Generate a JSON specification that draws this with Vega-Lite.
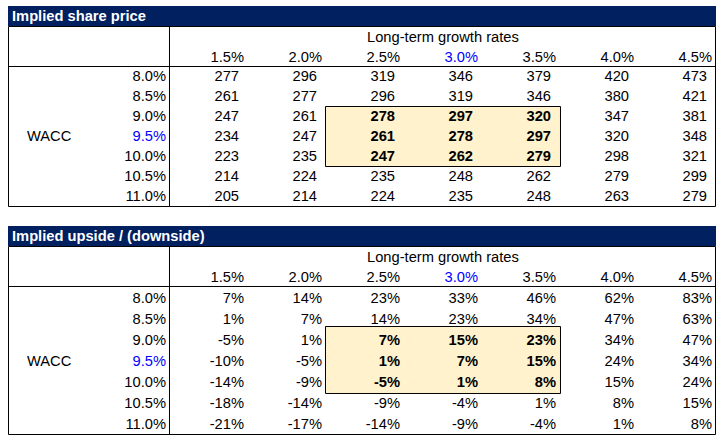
{
  "$schema": "https://vega.github.io/schema/vega-lite/v6.json",
  "padding": 0,
  "spacing": 0,
  "background": "white",
  "config": {
    "view": {"stroke": null},
    "axis": {"disable": true},
    "text": {"font": "Liberation Sans", "fontSize": 14.7},
    "locale": {"number": {"decimal": ".", "thousands": ",", "grouping": [3], "currency": ["$", ""], "minus": "-"}}
  },
  "datasets": {
    "cells": [
      {"w": 0.08, "g": 0.015, "p": 277, "u": 0.07}, {"w": 0.08, "g": 0.02, "p": 296, "u": 0.14}, {"w": 0.08, "g": 0.025, "p": 319, "u": 0.23}, {"w": 0.08, "g": 0.03, "p": 346, "u": 0.33}, {"w": 0.08, "g": 0.035, "p": 379, "u": 0.46}, {"w": 0.08, "g": 0.04, "p": 420, "u": 0.62}, {"w": 0.08, "g": 0.045, "p": 473, "u": 0.83},
      {"w": 0.085, "g": 0.015, "p": 261, "u": 0.01}, {"w": 0.085, "g": 0.02, "p": 277, "u": 0.07}, {"w": 0.085, "g": 0.025, "p": 296, "u": 0.14}, {"w": 0.085, "g": 0.03, "p": 319, "u": 0.23}, {"w": 0.085, "g": 0.035, "p": 346, "u": 0.34}, {"w": 0.085, "g": 0.04, "p": 380, "u": 0.47}, {"w": 0.085, "g": 0.045, "p": 421, "u": 0.63},
      {"w": 0.09, "g": 0.015, "p": 247, "u": -0.05}, {"w": 0.09, "g": 0.02, "p": 261, "u": 0.01}, {"w": 0.09, "g": 0.025, "p": 278, "u": 0.07}, {"w": 0.09, "g": 0.03, "p": 297, "u": 0.15}, {"w": 0.09, "g": 0.035, "p": 320, "u": 0.23}, {"w": 0.09, "g": 0.04, "p": 347, "u": 0.34}, {"w": 0.09, "g": 0.045, "p": 381, "u": 0.47},
      {"w": 0.095, "g": 0.015, "p": 234, "u": -0.10}, {"w": 0.095, "g": 0.02, "p": 247, "u": -0.05}, {"w": 0.095, "g": 0.025, "p": 261, "u": 0.01}, {"w": 0.095, "g": 0.03, "p": 278, "u": 0.07}, {"w": 0.095, "g": 0.035, "p": 297, "u": 0.15}, {"w": 0.095, "g": 0.04, "p": 320, "u": 0.24}, {"w": 0.095, "g": 0.045, "p": 348, "u": 0.34},
      {"w": 0.1, "g": 0.015, "p": 223, "u": -0.14}, {"w": 0.1, "g": 0.02, "p": 235, "u": -0.09}, {"w": 0.1, "g": 0.025, "p": 247, "u": -0.05}, {"w": 0.1, "g": 0.03, "p": 262, "u": 0.01}, {"w": 0.1, "g": 0.035, "p": 279, "u": 0.08}, {"w": 0.1, "g": 0.04, "p": 298, "u": 0.15}, {"w": 0.1, "g": 0.045, "p": 321, "u": 0.24},
      {"w": 0.105, "g": 0.015, "p": 214, "u": -0.18}, {"w": 0.105, "g": 0.02, "p": 224, "u": -0.14}, {"w": 0.105, "g": 0.025, "p": 235, "u": -0.09}, {"w": 0.105, "g": 0.03, "p": 248, "u": -0.04}, {"w": 0.105, "g": 0.035, "p": 262, "u": 0.01}, {"w": 0.105, "g": 0.04, "p": 279, "u": 0.08}, {"w": 0.105, "g": 0.045, "p": 299, "u": 0.15},
      {"w": 0.11, "g": 0.015, "p": 205, "u": -0.21}, {"w": 0.11, "g": 0.02, "p": 214, "u": -0.17}, {"w": 0.11, "g": 0.025, "p": 224, "u": -0.14}, {"w": 0.11, "g": 0.03, "p": 235, "u": -0.09}, {"w": 0.11, "g": 0.035, "p": 248, "u": -0.04}, {"w": 0.11, "g": 0.04, "p": 263, "u": 0.01}, {"w": 0.11, "g": 0.045, "p": 279, "u": 0.08}
    ]
  },
  "vconcat": [
    {
      "width": 724,
      "height": 220,
      "layer": [
        {"data": {"values": [{}]}, "mark": {"type": "rect", "color": "#002060"},
         "encoding": {"x": {"datum": -0.000128, "type": "quantitative", "scale": {"domain": [-0.000641, 0.045769], "nice": false, "zero": false}}, "x2": {"datum": 0.045256},
                      "y": {"datum": 0.0625, "type": "quantitative", "scale": {"domain": [0.061, 0.116], "nice": false, "zero": false, "reverse": true}}, "y2": {"datum": 0.0675}}},
        {"data": {"values": [{}]}, "mark": {"type": "text", "text": "Implied share price", "align": "left", "baseline": "middle", "dy": 1, "fontWeight": "bold", "color": "white"},
         "encoding": {"x": {"datum": 0.000128, "type": "quantitative", "scale": {"domain": [-0.000641, 0.045769], "nice": false, "zero": false}},
                      "y": {"datum": 0.065, "type": "quantitative", "scale": {"domain": [0.061, 0.116], "nice": false, "zero": false, "reverse": true}}}},
        {"data": {"values": [{}]}, "mark": {"type": "rect", "fill": "#FFF2CC", "stroke": "black", "strokeWidth": 1},
         "encoding": {"x": {"datum": 0.020224, "type": "quantitative", "scale": {"domain": [-0.000641, 0.045769], "nice": false, "zero": false}}, "x2": {"datum": 0.035288},
                      "y": {"datum": 0.087625, "type": "quantitative", "scale": {"domain": [0.061, 0.116], "nice": false, "zero": false, "reverse": true}}, "y2": {"datum": 0.102625}}},
        {"data": {"values": [{}]}, "mark": {"type": "rect", "filled": false, "stroke": "black", "strokeWidth": 1},
         "encoding": {"x": {"datum": -0.000096, "type": "quantitative", "scale": {"domain": [-0.000641, 0.045769], "nice": false, "zero": false}}, "x2": {"datum": 0.045224},
                      "y": {"datum": 0.067625, "type": "quantitative", "scale": {"domain": [0.061, 0.116], "nice": false, "zero": false, "reverse": true}}, "y2": {"datum": 0.112625}}},
        {"data": {"values": [{}]}, "mark": {"type": "rule", "color": "black", "strokeWidth": 1},
         "encoding": {"x": {"datum": 0.010224, "type": "quantitative", "scale": {"domain": [-0.000641, 0.045769], "nice": false, "zero": false}},
                      "y": {"datum": 0.067625, "type": "quantitative", "scale": {"domain": [0.061, 0.116], "nice": false, "zero": false, "reverse": true}}, "y2": {"datum": 0.112625}}},
        {"data": {"values": [{}]}, "mark": {"type": "rule", "color": "black", "strokeWidth": 1},
         "encoding": {"x": {"datum": -0.000096, "type": "quantitative", "scale": {"domain": [-0.000641, 0.045769], "nice": false, "zero": false}}, "x2": {"datum": 0.045224},
                      "y": {"datum": 0.077625, "type": "quantitative", "scale": {"domain": [0.061, 0.116], "nice": false, "zero": false, "reverse": true}}}},
        {"data": {"values": [{}]}, "mark": {"type": "text", "text": "Long-term growth rates", "align": "left", "baseline": "middle", "dy": 1},
         "encoding": {"x": {"datum": 0.022885, "type": "quantitative", "scale": {"domain": [-0.000641, 0.045769], "nice": false, "zero": false}},
                      "y": {"datum": 0.07025, "type": "quantitative", "scale": {"domain": [0.061, 0.116], "nice": false, "zero": false, "reverse": true}}}},
        {"data": {"values": [{}]}, "mark": {"type": "text", "text": "WACC", "align": "left", "baseline": "middle", "dy": 1},
         "encoding": {"x": {"datum": 0.00109, "type": "quantitative", "scale": {"domain": [-0.000641, 0.045769], "nice": false, "zero": false}},
                      "y": {"datum": 0.095, "type": "quantitative", "scale": {"domain": [0.061, 0.116], "nice": false, "zero": false, "reverse": true}}}},
        {"data": {"name": "cells"}, "transform": [{"filter": "datum.w === 0.08"}],
         "mark": {"type": "text", "align": "right", "baseline": "middle", "dy": 1},
         "encoding": {"x": {"field": "g", "type": "quantitative", "scale": {"domain": [-0.000641, 0.045769], "nice": false, "zero": false}},
                      "y": {"datum": 0.07525, "type": "quantitative", "scale": {"domain": [0.061, 0.116], "nice": false, "zero": false, "reverse": true}},
                      "text": {"field": "g", "type": "quantitative", "format": ".1%"},
                      "color": {"condition": {"test": "datum.g === 0.03", "value": "#0000FF"}, "value": "black"}}},
        {"data": {"name": "cells"}, "transform": [{"filter": "datum.g === 0.015"}],
         "mark": {"type": "text", "align": "right", "baseline": "middle", "dy": 1},
         "encoding": {"x": {"datum": 0.01, "type": "quantitative", "scale": {"domain": [-0.000641, 0.045769], "nice": false, "zero": false}},
                      "y": {"field": "w", "type": "quantitative", "scale": {"domain": [0.061, 0.116], "nice": false, "zero": false, "reverse": true}},
                      "text": {"field": "w", "type": "quantitative", "format": ".1%"},
                      "color": {"condition": {"test": "datum.w === 0.095", "value": "#0000FF"}, "value": "black"}}},
        {"data": {"name": "cells"}, "transform": [{"filter": "!(datum.g > 0.024 && datum.g < 0.036 && datum.w > 0.089 && datum.w < 0.101)"}],
         "mark": {"type": "text", "align": "right", "baseline": "middle", "dy": 1, "dx": -5},
         "encoding": {"x": {"field": "g", "type": "quantitative", "scale": {"domain": [-0.000641, 0.045769], "nice": false, "zero": false}},
                      "y": {"field": "w", "type": "quantitative", "scale": {"domain": [0.061, 0.116], "nice": false, "zero": false, "reverse": true}},
                      "text": {"field": "p", "type": "quantitative", "format": "d"}}},
        {"data": {"name": "cells"}, "transform": [{"filter": "datum.g > 0.024 && datum.g < 0.036 && datum.w > 0.089 && datum.w < 0.101"}],
         "mark": {"type": "text", "align": "right", "baseline": "middle", "dy": 1, "dx": -5, "fontWeight": "bold"},
         "encoding": {"x": {"field": "g", "type": "quantitative", "scale": {"domain": [-0.000641, 0.045769], "nice": false, "zero": false}},
                      "y": {"field": "w", "type": "quantitative", "scale": {"domain": [0.061, 0.116], "nice": false, "zero": false, "reverse": true}},
                      "text": {"field": "p", "type": "quantitative", "format": "d"}}}
      ]
    },
    {
      "width": 724,
      "height": 222,
      "layer": [
        {"data": {"values": [{}]}, "mark": {"type": "rect", "color": "#002060"},
         "encoding": {"x": {"datum": -0.000128, "type": "quantitative", "scale": {"domain": [-0.000641, 0.045769], "nice": false, "zero": false}}, "x2": {"datum": 0.045256},
                      "y": {"datum": 0.06283, "type": "quantitative", "scale": {"domain": [0.0614, 0.1143], "nice": false, "zero": false, "reverse": true}}, "y2": {"datum": 0.067596}}},
        {"data": {"values": [{}]}, "mark": {"type": "text", "text": "Implied upside / (downside)", "align": "left", "baseline": "middle", "dy": 1, "fontWeight": "bold", "color": "white"},
         "encoding": {"x": {"datum": 0.000128, "type": "quantitative", "scale": {"domain": [-0.000641, 0.045769], "nice": false, "zero": false}},
                      "y": {"datum": 0.065213, "type": "quantitative", "scale": {"domain": [0.0614, 0.1143], "nice": false, "zero": false, "reverse": true}}}},
        {"data": {"values": [{}]}, "mark": {"type": "rect", "fill": "#FFF2CC", "stroke": "black", "strokeWidth": 1},
         "encoding": {"x": {"datum": 0.020224, "type": "quantitative", "scale": {"domain": [-0.000641, 0.045769], "nice": false, "zero": false}}, "x2": {"datum": 0.035288},
                      "y": {"datum": 0.086778, "type": "quantitative", "scale": {"domain": [0.0614, 0.1143], "nice": false, "zero": false, "reverse": true}}, "y2": {"datum": 0.102743}}},
        {"data": {"values": [{}]}, "mark": {"type": "rect", "filled": false, "stroke": "black", "strokeWidth": 1},
         "encoding": {"x": {"datum": -0.000096, "type": "quantitative", "scale": {"domain": [-0.000641, 0.045769], "nice": false, "zero": false}}, "x2": {"datum": 0.045224},
                      "y": {"datum": 0.067715, "type": "quantitative", "scale": {"domain": [0.0614, 0.1143], "nice": false, "zero": false, "reverse": true}}, "y2": {"datum": 0.112513}}},
        {"data": {"values": [{}]}, "mark": {"type": "rule", "color": "black", "strokeWidth": 1},
         "encoding": {"x": {"datum": 0.010224, "type": "quantitative", "scale": {"domain": [-0.000641, 0.045769], "nice": false, "zero": false}},
                      "y": {"datum": 0.067715, "type": "quantitative", "scale": {"domain": [0.0614, 0.1143], "nice": false, "zero": false, "reverse": true}}, "y2": {"datum": 0.112513}}},
        {"data": {"values": [{}]}, "mark": {"type": "rule", "color": "black", "strokeWidth": 1},
         "encoding": {"x": {"datum": -0.000096, "type": "quantitative", "scale": {"domain": [-0.000641, 0.045769], "nice": false, "zero": false}}, "x2": {"datum": 0.045224},
                      "y": {"datum": 0.077246, "type": "quantitative", "scale": {"domain": [0.0614, 0.1143], "nice": false, "zero": false, "reverse": true}}}},
        {"data": {"values": [{}]}, "mark": {"type": "text", "text": "Long-term growth rates", "align": "left", "baseline": "middle", "dy": 1},
         "encoding": {"x": {"datum": 0.022885, "type": "quantitative", "scale": {"domain": [-0.000641, 0.045769], "nice": false, "zero": false}},
                      "y": {"datum": 0.070217, "type": "quantitative", "scale": {"domain": [0.0614, 0.1143], "nice": false, "zero": false, "reverse": true}}}},
        {"data": {"values": [{}]}, "mark": {"type": "text", "text": "WACC", "align": "left", "baseline": "middle", "dy": 1},
         "encoding": {"x": {"datum": 0.00109, "type": "quantitative", "scale": {"domain": [-0.000641, 0.045769], "nice": false, "zero": false}},
                      "y": {"datum": 0.095, "type": "quantitative", "scale": {"domain": [0.0614, 0.1143], "nice": false, "zero": false, "reverse": true}}}},
        {"data": {"name": "cells"}, "transform": [{"filter": "datum.w === 0.08"}],
         "mark": {"type": "text", "align": "right", "baseline": "middle", "dy": 1},
         "encoding": {"x": {"field": "g", "type": "quantitative", "scale": {"domain": [-0.000641, 0.045769], "nice": false, "zero": false}},
                      "y": {"datum": 0.074982, "type": "quantitative", "scale": {"domain": [0.0614, 0.1143], "nice": false, "zero": false, "reverse": true}},
                      "text": {"field": "g", "type": "quantitative", "format": ".1%"},
                      "color": {"condition": {"test": "datum.g === 0.03", "value": "#0000FF"}, "value": "black"}}},
        {"data": {"name": "cells"}, "transform": [{"filter": "datum.g === 0.015"}],
         "mark": {"type": "text", "align": "right", "baseline": "middle", "dy": 1},
         "encoding": {"x": {"datum": 0.01, "type": "quantitative", "scale": {"domain": [-0.000641, 0.045769], "nice": false, "zero": false}},
                      "y": {"field": "w", "type": "quantitative", "scale": {"domain": [0.0614, 0.1143], "nice": false, "zero": false, "reverse": true}},
                      "text": {"field": "w", "type": "quantitative", "format": ".1%"},
                      "color": {"condition": {"test": "datum.w === 0.095", "value": "#0000FF"}, "value": "black"}}},
        {"data": {"name": "cells"}, "transform": [{"filter": "!(datum.g > 0.024 && datum.g < 0.036 && datum.w > 0.089 && datum.w < 0.101)"}],
         "mark": {"type": "text", "align": "right", "baseline": "middle", "dy": 1},
         "encoding": {"x": {"field": "g", "type": "quantitative", "scale": {"domain": [-0.000641, 0.045769], "nice": false, "zero": false}},
                      "y": {"field": "w", "type": "quantitative", "scale": {"domain": [0.0614, 0.1143], "nice": false, "zero": false, "reverse": true}},
                      "text": {"field": "u", "type": "quantitative", "format": ".0%"}}},
        {"data": {"name": "cells"}, "transform": [{"filter": "datum.g > 0.024 && datum.g < 0.036 && datum.w > 0.089 && datum.w < 0.101"}],
         "mark": {"type": "text", "align": "right", "baseline": "middle", "dy": 1, "fontWeight": "bold"},
         "encoding": {"x": {"field": "g", "type": "quantitative", "scale": {"domain": [-0.000641, 0.045769], "nice": false, "zero": false}},
                      "y": {"field": "w", "type": "quantitative", "scale": {"domain": [0.0614, 0.1143], "nice": false, "zero": false, "reverse": true}},
                      "text": {"field": "u", "type": "quantitative", "format": ".0%"}}}
      ]
    }
  ]
}
